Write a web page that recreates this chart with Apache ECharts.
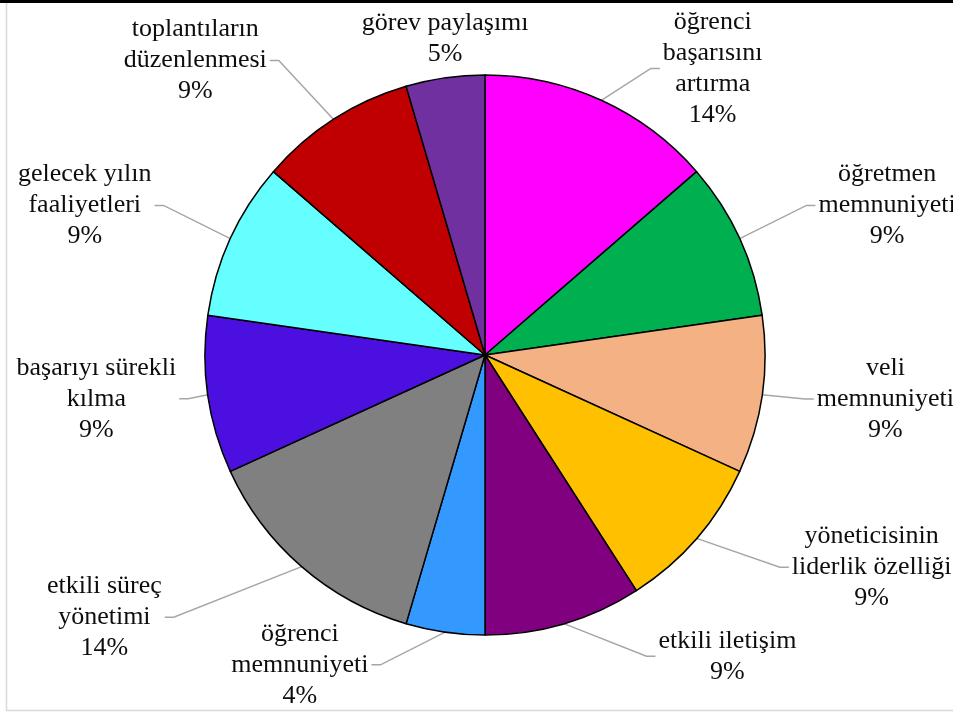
<!DOCTYPE html>
<html>
<head>
<meta charset="utf-8">
<script src="https://cdn.jsdelivr.net/npm/echarts@6/dist/echarts.min.js"></script>
<style>
  html, body { margin: 0; padding: 0; background: #fff; }
  #chart { width: 953px; height: 713px; }
</style>
</head>
<body>
<div id="chart"></div>
<script>
// slices, clockwise from 12 o'clock
var categories = [
  'öğrenci\nbaşarısını\nartırma',
  'öğretmen\nmemnuniyeti',
  'veli\nmemnuniyeti',
  'yöneticisinin\nliderlik özelliği',
  'etkili iletişim',
  'öğrenci\nmemnuniyeti',
  'etkili süreç\nyönetimi',
  'başarıyı sürekli\nkılma',
  'gelecek yılın\nfaaliyetleri',
  'toplantıların\ndüzenlenmesi',
  'görev paylaşımı'
]
var counts = [3, 2, 2, 2, 2, 1, 3, 2, 2, 2, 1]
// percentages as printed on the labels (Excel rounds them to sum 100)
var pctLabels = [14, 9, 9, 9, 9, 4, 14, 9, 9, 9, 5]
var colors = ['#ff00ff', '#00b050', '#f4b183', '#ffc000', '#800080', '#3399ff',
  '#808080', '#4b10df', '#66ffff', '#c00000', '#7030a0']
// leader line [length, length2] per slice, tuned to where Excel put the labels
var leader = [[35, 43], [80, 2], [29, 22], [44, 58], [34, 81], [33, 68],
  [67, 92], [28, 0], [80, 2], [70, 25], [20, 5]]

var CX = 485, CY = 355, R = 280

var chart = echarts.init(document.getElementById('chart'))

var pieData = categories.map(function (name, i) {
  return {
    name: name,
    value: counts[i],
    itemStyle: { color: colors[i] },
    labelLine: { length: leader[i][0], length2: leader[i][1] }
  }
})

chart.setOption({
  animation: false,
  backgroundColor: '#fff',
  graphic: [
    { type: 'rect', shape: { x: 0, y: 0, width: 953, height: 3 }, style: { fill: '#000' } },
    { type: 'polyline', shape: { points: [[6.5, 3], [6.5, 710.5], [953, 710.5]] },
      style: { stroke: '#d9d9d9', lineWidth: 1.5, fill: null } }
  ],
  series: [{
    type: 'pie',
    center: [CX, CY],
    radius: R,
    startAngle: 90,
    clockwise: true,
    avoidLabelOverlap: false,
    data: pieData,
    itemStyle: { borderColor: '#000', borderWidth: 1.5 },
    label: {
      show: true,
      position: 'outside',
      formatter: function (p) { return p.name + '\n' + pctLabels[p.dataIndex] + '%' },
      fontFamily: 'Liberation Serif',
      fontSize: 26,
      lineHeight: 31,
      color: '#0d0d0d'
    },
    labelLine: {
      show: true,
      lineStyle: { color: '#a6a6a6', width: 1.5 }
    },
    labelLayout: function (p) {
      var pts = p.labelLinePoints
      if (!pts) return {}
      var start = pts[0], end = pts[pts.length - 1]
      var w = p.labelRect.width, h = p.labelRect.height
      // near the top: sit straight above the slice without a leader
      if (Math.abs(start[0] - CX) < 0.25 * R && start[1] < CY) {
        return {
          x: start[0], y: start[1] - h / 2 - 8,
          align: 'center', verticalAlign: 'middle',
          labelLinePoints: [start, start, start]
        }
      }
      var side = start[0] >= CX ? 1 : -1
      var x = end[0] + side * (w / 2 + 4)
      var edge = x - side * w / 2
      // Excel style leader: straight from the slice to just beside the text
      return {
        x: x,
        y: end[1],
        align: 'center',
        verticalAlign: 'middle',
        labelLinePoints: [start, [edge - side * 12, end[1]], [edge - side * 3, end[1]]]
      }
    }
  }]
})
</script>
</body>
</html>
